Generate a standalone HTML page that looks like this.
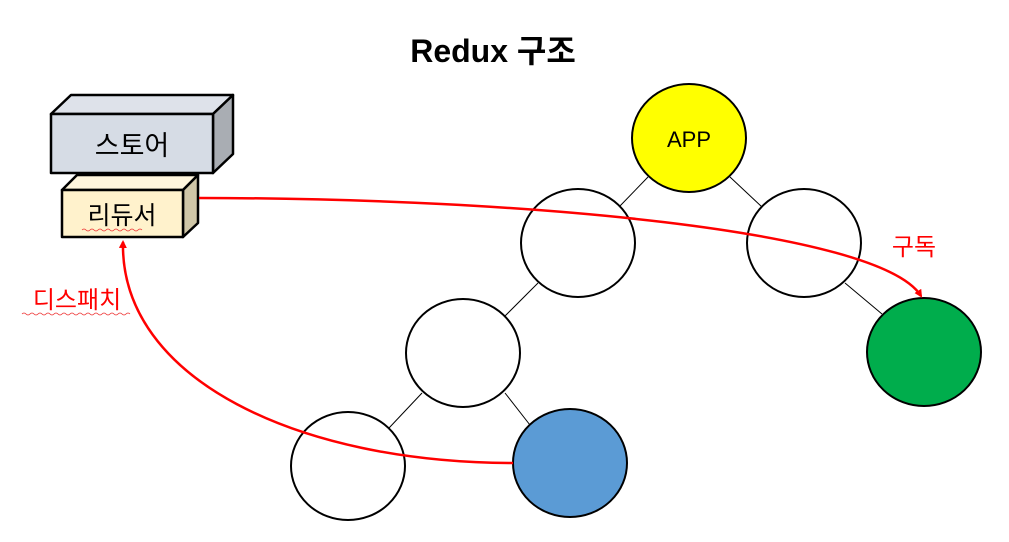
<!DOCTYPE html>
<html><head><meta charset="utf-8"><style>
html,body{margin:0;padding:0;background:#fff;}
svg{display:block}
text{font-family:"Liberation Sans","Noto Sans CJK KR",sans-serif;}
</style></head><body>
<svg width="1009" height="542" viewBox="0 0 1009 542" xmlns="http://www.w3.org/2000/svg">
<defs>
<marker id="ah" markerWidth="8" markerHeight="8" refX="6" refY="4" orient="auto" markerUnits="userSpaceOnUse">
<path d="M0,0 L8,4 L0,8 Z" fill="#f00"/>
</marker>
</defs>
<text x="493" y="62" font-size="32" font-weight="bold" text-anchor="middle" fill="#000">Redux 구조</text>
<!-- tree lines -->
<g stroke="#000" stroke-width="1">
<line x1="648" y1="177" x2="619" y2="207"/>
<line x1="730" y1="177" x2="762" y2="207"/>
<line x1="538" y1="283" x2="505" y2="316"/>
<line x1="845" y1="283" x2="882" y2="314"/>
<line x1="422" y1="393" x2="389" y2="428"/>
<line x1="505" y1="393" x2="530" y2="425"/>
</g>
<g stroke="#000" stroke-width="2">
<ellipse cx="689" cy="138" rx="57" ry="54" fill="#ffff00"/>
<ellipse cx="578" cy="243" rx="57" ry="54" fill="#fff"/>
<ellipse cx="804" cy="243" rx="57" ry="54" fill="#fff"/>
<ellipse cx="463" cy="353" rx="57" ry="54" fill="#fff"/>
<ellipse cx="924" cy="352" rx="57" ry="54" fill="#00ad4c"/>
<ellipse cx="348" cy="466" rx="57" ry="54" fill="#fff"/>
<ellipse cx="570" cy="463" rx="57" ry="54" fill="#5b9bd5"/>
</g>
<text x="689" y="147" font-size="22" text-anchor="middle">APP</text>
<!-- store -->
<g stroke="#000" stroke-width="2.5" stroke-linejoin="round">
<polygon points="51,114 71,95 233,95 213,114" fill="#dee2ea"/>
<polygon points="213,114 233,95 233,154 213,173" fill="#a9adb3"/>
<rect x="51" y="114" width="162" height="59" fill="#d6dce5"/>
<polygon points="62,190 77,175 198,175 183,190" fill="#fff6dd"/>
<polygon points="183,190 198,175 198,223 183,237" fill="#cfc6a7"/>
<rect x="62" y="190" width="121" height="47" fill="#fff2cc"/>
</g>
<text x="132" y="155" font-size="27" text-anchor="middle">스토어</text>
<text x="122" y="224" font-size="25" text-anchor="middle">리듀서</text>
<path d="M82,230 q2,-2 4,0 t4,0 t4,0 t4,0 t4,0 t4,0 t4,0 t4,0 t4,0 t4,0 t4,0 t4,0 t4,0 t4,0 t4,0" stroke="#e33" stroke-width="0.8" fill="none"/>
<!-- arrows -->
<path d="M199,198 C520,198 880,230 921,296" stroke="#f00" stroke-width="2.5" fill="none" marker-end="url(#ah)"/>
<path d="M513,463 C300,463 120,380 123,242" stroke="#f00" stroke-width="2.5" fill="none" marker-end="url(#ah)"/>
<text x="914" y="255" font-size="24" text-anchor="middle" fill="#f00">구독</text>
<text x="77" y="308" font-size="24" text-anchor="middle" fill="#f00">디스패치</text>
<path d="M22,314 q2,-2 4,0 t4,0 t4,0 t4,0 t4,0 t4,0 t4,0 t4,0 t4,0 t4,0 t4,0 t4,0 t4,0 t4,0 t4,0 t4,0 t4,0 t4,0 t4,0 t4,0 t4,0 t4,0 t4,0 t4,0 t4,0 t4,0 t4,0" stroke="#e33" stroke-width="0.8" fill="none"/>
</svg>
</body></html>
